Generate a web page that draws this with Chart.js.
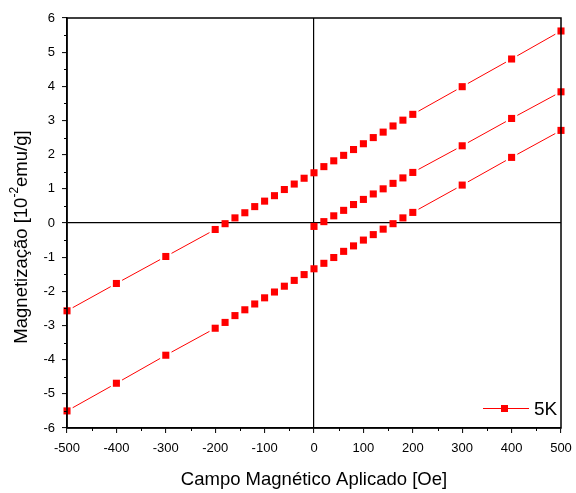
<!DOCTYPE html>
<html>
<head>
<meta charset="utf-8">
<script src="https://cdn.jsdelivr.net/npm/chart.js@4.4.1/dist/chart.umd.min.js"></script>
<style>
  html, body { margin: 0; padding: 0; background: #fff; }
  #wrap { width: 576px; height: 493px; position: relative; }
</style>
</head>
<body>
<div id="wrap"><canvas id="chart"></canvas></div>
<script>
// Magnetic field [Oe] for each branch
const fieldUpper = [-500, -400, -300, -200, -180, -160, -140, -120, -100, -80, -60, -40, -20, 0,
    20, 40, 60, 80, 100, 120, 140, 160, 180, 200, 300, 400, 500];
const fieldLower = [-500, -400, -300, -200, -180, -160, -140, -120, -100, -80, -60, -40, -20, 0,
    20, 40, 60, 80, 100, 120, 140, 160, 180, 200, 300, 400, 500];
const fieldVirgin = [0, 20, 40, 60, 80, 100, 120, 140, 160, 180, 200, 300, 400, 500];

// Magnetization [10^-2 emu/g]
const magUpper = [-2.57, -1.77, -0.98, -0.19, -0.02, 0.15, 0.30, 0.48, 0.64, 0.80, 0.98, 1.14, 1.31, 1.47,
    1.65, 1.82, 1.98, 2.15, 2.32, 2.50, 2.66, 2.84, 3.01, 3.18, 3.99, 4.80, 5.62];
const magLower = [-5.50, -4.69, -3.87, -3.08, -2.91, -2.71, -2.54, -2.37, -2.19, -2.02, -1.85, -1.68, -1.51, -1.34,
    -1.18, -1.01, -0.83, -0.67, -0.50, -0.34, -0.18, -0.02, 0.15, 0.31, 1.11, 1.92, 2.71];
const magVirgin = [-0.10, 0.04, 0.21, 0.37, 0.54, 0.69, 0.85, 1.00, 1.16, 1.32, 1.48, 2.26, 3.06, 3.84];

const seriesLabel = "5K";
const xTitle = "Campo Magnético Aplicado [Oe]";
// y title pieces: base text, superscript, rest
const yTitleParts = ["Magnetização [10", "-2", "emu/g]"];

const RED = "#ff0000";
const FONT = "'Liberation Sans', Arial, sans-serif";

const toPoints = (xs, ys) => xs.map((x, i) => ({ x: x, y: ys[i] }));

// Origin-style line: gap around each marker, no line between close markers
const segLen = (ctx) => Math.hypot(ctx.p1.x - ctx.p0.x, ctx.p1.y - ctx.p0.y);
const GAP = 6.5;
const segmentStyle = {
    borderColor: (ctx) => (segLen(ctx) < 2 * GAP + 2 ? "rgba(0,0,0,0)" : RED),
    borderDash: (ctx) => {
        const L = segLen(ctx);
        return L < 2 * GAP + 2 ? [] : [0, GAP, L - 2 * GAP, GAP];
    },
};

function makeSet(label, data) {
    return {
        label: label,
        data: data,
        showLine: true,
        borderColor: RED,
        backgroundColor: RED,
        borderWidth: 1,
        pointStyle: "rect",
        pointRadius: 5,
        pointBorderWidth: 0,
        pointBackgroundColor: RED,
        pointHoverRadius: 5,
        tension: 0,
        clip: false,
        segment: segmentStyle,
    };
}

// frame, minor ticks, y title, legend
const extras = {
    id: "extras",
    afterDraw(chart) {
        const { ctx, chartArea: ca, scales } = chart;
        const xs = scales.x, ys = scales.y;
        ctx.save();
        ctx.strokeStyle = "#000";
        ctx.lineWidth = 1;
        // minor ticks
        ctx.beginPath();
        for (let v = -450; v < 500; v += 100) {
            const px = Math.round(xs.getPixelForValue(v)) + 0.5;
            ctx.moveTo(px, ca.bottom);
            ctx.lineTo(px, ca.bottom + 3);
        }
        for (let v = -5.5; v < 6; v += 1) {
            const py = Math.round(ys.getPixelForValue(v)) + 0.5;
            ctx.moveTo(ca.left, py);
            ctx.lineTo(ca.left - 3, py);
        }
        ctx.stroke();
        // frame
        ctx.lineWidth = 1.5;
        ctx.strokeRect(ca.left, ca.top, ca.right - ca.left, ca.bottom - ca.top);

        // y title with superscript
        ctx.save();
        ctx.translate(21, (ca.top + ca.bottom) / 2 + 14);
        ctx.rotate(-Math.PI / 2);
        ctx.fillStyle = "#000";
        ctx.textBaseline = "middle";
        ctx.textAlign = "left";
        const big = "18.5px " + FONT, small = "12px " + FONT;
        ctx.font = big;
        const w0 = ctx.measureText(yTitleParts[0]).width;
        const w2 = ctx.measureText(yTitleParts[2]).width;
        ctx.font = small;
        const w1 = ctx.measureText(yTitleParts[1]).width;
        let x0 = -(w0 + w1 + w2) / 2;
        ctx.font = big;
        ctx.fillText(yTitleParts[0], x0, 1);
        ctx.font = small;
        ctx.fillText(yTitleParts[1], x0 + w0, -6);
        ctx.font = big;
        ctx.fillText(yTitleParts[2], x0 + w0 + w1, 1);
        ctx.restore();

        // legend
        const ly = ca.bottom - 19.5;
        ctx.strokeStyle = RED;
        ctx.lineWidth = 1;
        ctx.beginPath();
        ctx.moveTo(ca.right - 78, ly);
        ctx.lineTo(ca.right - 32, ly);
        ctx.stroke();
        ctx.fillStyle = RED;
        ctx.fillRect(ca.right - 60, ly - 3.5, 7, 7);
        ctx.fillStyle = "#000";
        ctx.font = "19px " + FONT;
        ctx.textBaseline = "middle";
        ctx.textAlign = "left";
        ctx.fillText(seriesLabel, ca.right - 27, ly + 1);
        ctx.restore();
    },
};

const tickFont = { family: FONT, size: 13 };
const titleFont = { family: FONT, size: 18.5 };

const zeroLine = (c) => (c.tick && c.tick.value === 0 ? "#000" : "rgba(0,0,0,0)");

new Chart(document.getElementById("chart").getContext("2d"), {
    type: "scatter",
    data: {
        datasets: [
            makeSet(seriesLabel, toPoints(fieldUpper, magUpper)),
            makeSet(seriesLabel + " lower", toPoints(fieldLower, magLower)),
            makeSet(seriesLabel + " virgin", toPoints(fieldVirgin, magVirgin)),
        ],
    },
    options: {
        responsive: true,
        maintainAspectRatio: false,
        animation: false,
        events: [],
        layout: { padding: { top: 18, right: 15, left: 0, bottom: 0 } },
        plugins: { legend: { display: false }, tooltip: { enabled: false } },
        scales: {
            x: {
                type: "linear",
                min: -500,
                max: 500,
                afterFit: (s) => { s.height = 65; s.paddingLeft = 0; s.paddingRight = 0; },
                ticks: { stepSize: 100, color: "#000", font: tickFont, padding: 8, maxRotation: 0 },
                grid: {
                    drawOnChartArea: true,
                    color: zeroLine,
                    lineWidth: 1.2,
                    tickColor: "#000",
                    tickLength: 5,
                    tickWidth: 1,
                },
                border: { display: true, color: "#000", width: 1.5 },
                title: { display: true, text: xTitle, color: "#000", font: titleFont, padding: { top: 0, bottom: 2 } },
            },
            y: {
                type: "linear",
                min: -6,
                max: 6,
                afterFit: (s) => { s.width = 67; s.paddingTop = 0; s.paddingBottom = 0; },
                ticks: { stepSize: 1, color: "#000", font: tickFont, padding: 7 },
                grid: {
                    drawOnChartArea: true,
                    color: zeroLine,
                    lineWidth: 1.2,
                    tickColor: "#000",
                    tickLength: 5,
                    tickWidth: 1,
                },
                border: { display: true, color: "#000", width: 1.5 },
                title: { display: false },
            },
        },
    },
    plugins: [extras],
});
</script>
</body>
</html>
